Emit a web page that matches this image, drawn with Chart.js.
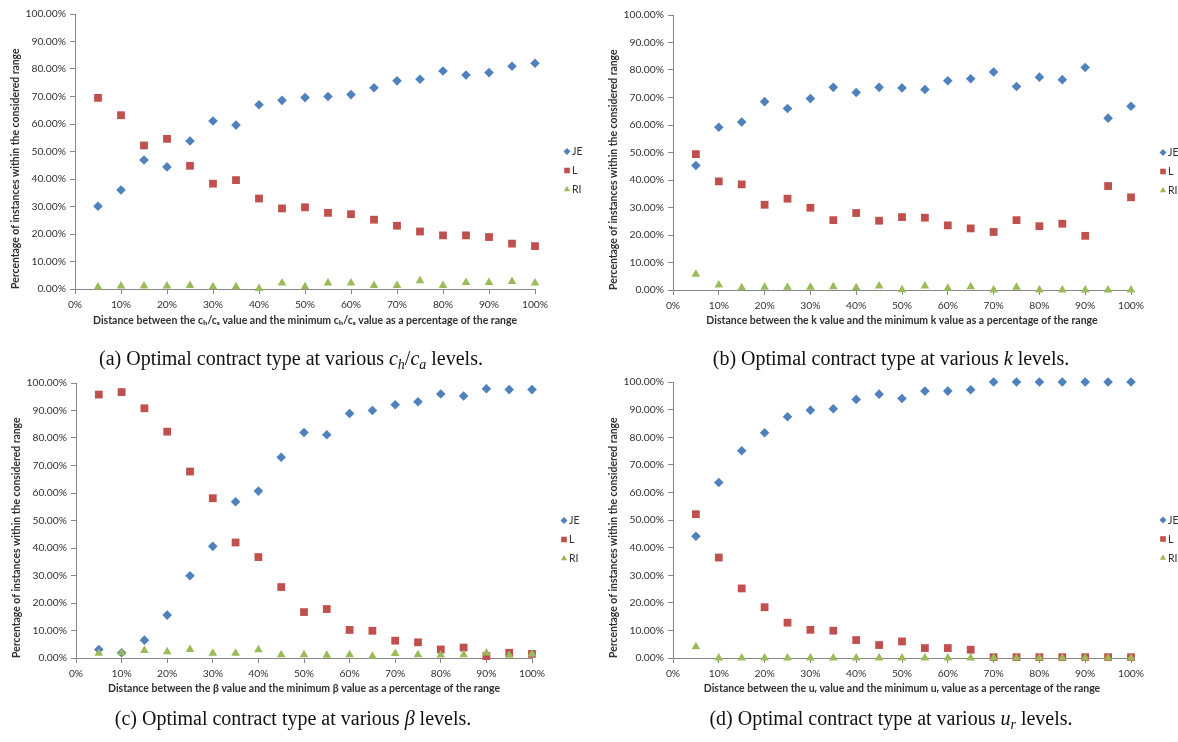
<!DOCTYPE html>
<html>
<head>
<meta charset="utf-8">
<script src="https://cdn.jsdelivr.net/npm/chart.js@4.4.1/dist/chart.umd.min.js"></script>
<style>
  html, body { margin: 0; padding: 0; background: #ffffff; }
  #page { position: relative; width: 1178px; height: 742px; overflow: hidden; background: #fff; }
  .box { position: absolute; }
  .cap { position: absolute; width: 600px; text-align: center; font-family: "Liberation Serif", "DejaVu Serif", serif; font-size: 20px; color: #111; white-space: nowrap; line-height: 24px; }
  .cap sub { font-size: 70%; vertical-align: -0.25em; line-height: 0; }
</style>
</head>
<body>
<div id="page">
  <div class="box" style="left:0px;top:0px;width:590px;height:340px;"><canvas id="cA" width="590" height="340"></canvas></div>
  <div class="box" style="left:590px;top:0px;width:588px;height:340px;"><canvas id="cB" width="588" height="340"></canvas></div>
  <div class="box" style="left:0px;top:370px;width:590px;height:340px;"><canvas id="cC" width="590" height="340"></canvas></div>
  <div class="box" style="left:590px;top:370px;width:588px;height:340px;"><canvas id="cD" width="588" height="340"></canvas></div>
  <div class="cap" style="left:-9px;top:346px;">(a) Optimal contract type at various <i>c<sub>h</sub></i>/<i>c<sub>a</sub></i> levels.</div>
  <div class="cap" style="left:591px;top:346px;">(b) Optimal contract type at various <i>k</i> levels.</div>
  <div class="cap" style="left:-7px;top:706px;">(c) Optimal contract type at various <i>β</i> levels.</div>
  <div class="cap" style="left:591px;top:706px;">(d) Optimal contract type at various <i>u<sub>r</sub></i> levels.</div>
</div>
<script>
// ---- data ----
const xLevels = [5, 10, 15, 20, 25, 30, 35, 40, 45, 50, 55, 60, 65, 70, 75, 80, 85, 90, 95, 100];
const seriesNames = ["JE", "L", "RI"];
const xTickValues = [0, 10, 20, 30, 40, 50, 60, 70, 80, 90, 100];
const yTickValues = [0, 10, 20, 30, 40, 50, 60, 70, 80, 90, 100];

// (a) ch/ca
const jeA = [30.1, 36.0, 46.9, 44.4, 53.8, 61.1, 59.6, 67.0, 68.6, 69.6, 70.0, 70.7, 73.2, 75.7, 76.3, 79.3, 77.8, 78.7, 81.0, 82.1];
const lA  = [69.5, 63.2, 52.2, 54.6, 44.8, 38.3, 39.6, 32.9, 29.3, 29.7, 27.7, 27.2, 25.2, 23.0, 20.9, 19.5, 19.5, 18.9, 16.5, 15.6];
const riA = [0.7, 1.1, 1.1, 1.1, 1.3, 0.8, 0.8, 0.2, 2.2, 0.8, 2.2, 2.2, 1.3, 1.3, 3.0, 1.3, 2.4, 2.4, 2.7, 2.2];

// (b) k
const jeB = [45.3, 59.2, 61.1, 68.5, 66.0, 69.6, 73.7, 71.8, 73.7, 73.5, 72.9, 76.1, 76.8, 79.3, 74.0, 77.4, 76.5, 80.9, 62.5, 66.8];
const lB  = [49.4, 39.5, 38.4, 31.0, 33.2, 29.9, 25.4, 28.0, 25.2, 26.5, 26.3, 23.5, 22.4, 21.1, 25.4, 23.2, 24.1, 19.7, 37.8, 33.7];
const riB = [5.7, 1.8, 0.8, 1.0, 1.0, 1.0, 1.2, 0.8, 1.5, 0.1, 1.5, 0.6, 1.2, 0.0, 1.0, 0.0, 0.0, 0.0, 0.0, 0.0];

// (c) beta
const jeC = [3.1, 1.9, 6.5, 15.6, 29.9, 40.6, 56.8, 60.7, 73.0, 82.0, 81.2, 88.9, 90.0, 92.1, 93.2, 96.0, 95.3, 97.9, 97.6, 97.6];
const lC  = [95.8, 96.7, 90.8, 82.3, 67.8, 58.1, 42.0, 36.7, 25.8, 16.7, 17.8, 10.2, 9.9, 6.3, 5.7, 3.1, 3.8, 0.7, 1.9, 1.5];
const riC = [1.7, 1.9, 2.7, 2.3, 3.1, 1.7, 1.7, 3.0, 1.2, 1.2, 1.0, 1.2, 0.6, 1.6, 1.2, 1.1, 1.2, 1.8, 1.0, 1.5];

// (d) u_r
const jeD = [44.1, 63.6, 75.1, 81.6, 87.4, 89.8, 90.3, 93.7, 95.6, 94.0, 96.7, 96.7, 97.2, 100, 100, 100, 100, 100, 100, 100];
const lD  = [52.1, 36.4, 25.2, 18.4, 12.8, 10.2, 9.9, 6.5, 4.7, 6.0, 3.6, 3.6, 3.0, 0.3, 0.3, 0.3, 0.3, 0.3, 0.3, 0.3];
const riD = [4.1, 0, 0, 0, 0, 0, 0, 0, 0, 0, 0, 0, 0, 0, 0, 0, 0, 0, 0, 0];

const yTitle = "Percentage of instances within the considered range";
const xTitles = {
  A: "Distance between the c\u2095/c\u2090 value and the minimum c\u2095/c\u2090 value as a percentage of the range",
  B: "Distance between the k value and the minimum k value as a percentage of the range",
  C: "Distance between the \u03b2 value and the minimum \u03b2 value as a percentage of the range",
  D: "Distance between the u\u1d63 value and the minimum u\u1d63 value as a percentage of the range"
};

// ---- styling ----
const COLORS = ["#4F81BD", "#C0504D", "#9BBB59"];
const STYLES = ["rectRot", "rect", "triangle"];
const RADII = [4.8, 5.5, 5.0];
const TEXT = "#303030";
const AXIS = "#878787";

Chart.defaults.font.family = "Lato, 'Open Sans', 'DejaVu Sans', sans-serif";
Chart.defaults.color = TEXT;

const sideLegend = {
  id: "sideLegend",
  afterDraw(chart, args, opts) {
    const { ctx, chartArea } = chart;
    const cy = (chartArea.top + chartArea.bottom) / 2;
    chart.data.datasets.forEach((ds, i) => {
      const x = chartArea.right + opts.dx;
      const y = cy + i * opts.gap;
      ctx.save();
      ctx.fillStyle = ds.backgroundColor;
      ctx.strokeStyle = ds.backgroundColor;
      Chart.helpers.drawPoint(ctx, { pointStyle: ds.pointStyle, radius: ds.pointRadius * 0.72, borderWidth: 0, rotation: 0 }, x, y);
      ctx.fillStyle = TEXT;
      ctx.font = "10.5px Lato, 'Open Sans', sans-serif";
      ctx.textBaseline = "middle";
      ctx.textAlign = "left";
      ctx.fillText(ds.label, x + 5, y + 0.5);
      ctx.restore();
    });
  }
};

function points(vals) {
  return xLevels.map((x, i) => ({ x: x, y: vals[i] }));
}

function makeChart(id, key, series, lay) {
  const datasets = series.map((vals, i) => ({
    label: seriesNames[i],
    data: points(vals),
    pointStyle: STYLES[i],
    pointRadius: RADII[i],
    pointHoverRadius: RADII[i],
    backgroundColor: COLORS[i],
    borderColor: COLORS[i],
    pointBorderWidth: 0,
    showLine: false,
    clip: false,
    order: 2 - i
  }));
  return new Chart(document.getElementById(id), {
    type: "scatter",
    data: { datasets },
    plugins: [sideLegend],
    options: {
      responsive: false,
      devicePixelRatio: 1,
      animation: false,
      events: [],
      layout: { padding: lay.pad },
      plugins: {
        legend: { display: false },
        tooltip: { enabled: false },
        sideLegend: { dx: 32, gap: 19 }
      },
      scales: {
        x: {
          type: "linear",
          min: 0, max: 100,
          afterFit: s => { s.height = lay.xH; },
          afterBuildTicks: s => { s.ticks = xTickValues.map(v => ({ value: v })); },
          ticks: { callback: v => v + "%", font: { size: 10.3 }, color: TEXT, padding: 4, maxRotation: 0, autoSkip: false },
          grid: { drawOnChartArea: false, drawTicks: true, tickLength: 5, tickColor: AXIS, lineWidth: 1 },
          border: { display: true, color: AXIS, width: 1 },
          title: { display: true, text: xTitles[key], font: { size: 10.5, weight: "bold" }, color: TEXT, padding: { top: 0, bottom: 0 } }
        },
        y: {
          type: "linear",
          min: 0, max: 100,
          afterFit: s => { s.width = 66; },
          afterBuildTicks: s => { s.ticks = yTickValues.map(v => ({ value: v })); },
          ticks: { callback: v => v.toFixed(2) + "%", font: { size: 10.3 }, color: TEXT, padding: 4, autoSkip: false },
          grid: { drawOnChartArea: false, drawTicks: true, tickLength: 5, tickColor: AXIS, lineWidth: 1 },
          border: { display: true, color: AXIS, width: 1 },
          title: { display: true, text: yTitle, align: "start", font: { size: 10.4, weight: "bold" }, color: TEXT, padding: { top: 0, bottom: 0 } }
        }
      }
    }
  });
}

makeChart("cA", "A", [jeA, lA, riA], { pad: { left: 9, top: 14, right: 55, bottom: 13 }, xH: 38 });
makeChart("cB", "B", [jeB, lB, riB], { pad: { left: 17, top: 15, right: 47, bottom: 13 }, xH: 37 });
makeChart("cC", "C", [jeC, lC, riC], { pad: { left: 10, top: 13, right: 58, bottom: 15 }, xH: 37 });
makeChart("cD", "D", [jeD, lD, riD], { pad: { left: 17, top: 12, right: 47, bottom: 15 }, xH: 37 });
</script>
</body>
</html>
